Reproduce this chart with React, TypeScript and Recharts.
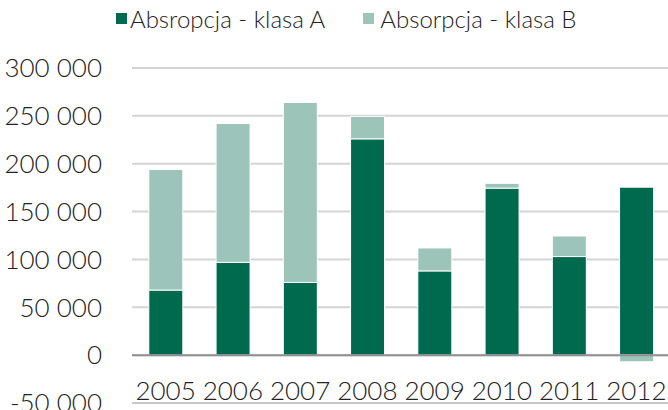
import { BarChart, Bar, XAxis, YAxis, CartesianGrid, ReferenceLine } from "recharts"

const years = ["2005", "2006", "2007", "2008", "2009", "2010", "2011", "2012"]
const klasaA = [68000, 97000, 76000, 226000, 88000, 174500, 103000, 175500]
const klasaB = [126000, 145000, 188000, 23500, 24000, 5000, 21500, -7000]
const yTicks = [-50000, 0, 50000, 100000, 150000, 200000, 250000, 300000]

const data = years.map((y, i) => ({ name: y, a: klasaA[i], b: klasaB[i] }))

const DARK = "#006A4E"
const LIGHT = "#9CC4B9"
const FONT = "Lato, 'Open Sans', sans-serif"

const fmt = (v: number) => {
  const s = Math.abs(v).toString()
  const out = s.length > 3 ? s.slice(0, s.length - 3) + " " + s.slice(-3) : s
  return (v < 0 ? "-" : "") + out
}

const YearTick = (props: any) => {
  const { x, y, payload } = props
  return (
    <text x={x} y={y} dy={-5} textAnchor="middle" fill="#222" fontSize={26} fontWeight={300} fontFamily={FONT}>
      {payload.value}
    </text>
  )
}

export default function App() {
  return (
    <div style={{ position: "absolute", left: 0, top: 0, width: 670, height: 410, background: "#fff" }}>
      <div
        style={{
          position: "absolute", top: 4, left: 116, display: "flex", alignItems: "center",
          fontFamily: FONT, fontWeight: 300, fontSize: 24, color: "#222", whiteSpace: "nowrap",
        }}
      >
        <span style={{ width: 11, height: 11, background: DARK, display: "inline-block", marginRight: 3 }} />
        <span>Absropcja - klasa A</span>
        <span style={{ width: 11, height: 11, background: LIGHT, display: "inline-block", marginLeft: 38, marginRight: 6 }} />
        <span>Absorpcja - klasa B</span>
      </div>
      <BarChart
        width={670}
        height={410}
        data={data}
        stackOffset="sign"
        barCategoryGap="25%"
        margin={{ top: 68, right: 0, bottom: 0, left: 0 }}
      >
        <CartesianGrid vertical={false} stroke="#d4d4d4" strokeWidth={2} />
        <XAxis
          dataKey="name"
          height={7}
          tickLine={false}
          tickSize={0}
          axisLine={{ stroke: "#c8c8c8", strokeWidth: 2 }}
          tick={(p: any) => <YearTick {...p} />}
          interval={0}
        />
        <YAxis
          width={132}
          domain={[-50000, 300000]}
          ticks={yTicks}
          interval={0}
          axisLine={false}
          tickLine={false}
          tickFormatter={fmt}
          tickMargin={24}
          tick={{ fontSize: 26, fontWeight: 300, fill: "#222", fontFamily: FONT }}
        />
        <ReferenceLine y={0} stroke="#8f8f8f" strokeWidth={2} />
        <Bar dataKey="a" stackId="s" fill={DARK} stroke="#ffffff" strokeWidth={1} isAnimationActive={false} />
        <Bar dataKey="b" stackId="s" fill={LIGHT} stroke="#ffffff" strokeWidth={1} isAnimationActive={false} />
      </BarChart>
    </div>
  )
}
